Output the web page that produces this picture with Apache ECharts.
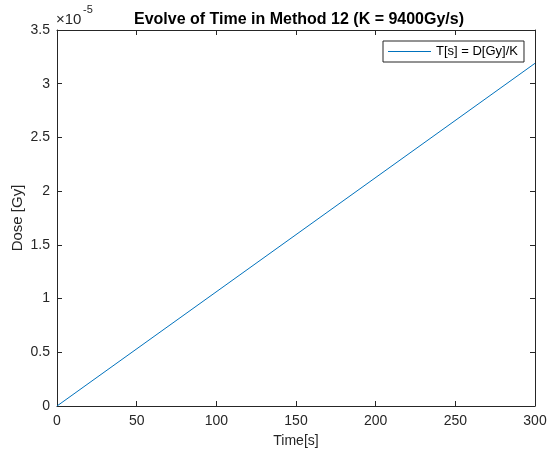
<!DOCTYPE html>
<html><head><meta charset="utf-8">
<script src="https://cdn.jsdelivr.net/npm/echarts@6/dist/echarts.min.js"></script>
<style>html,body{margin:0;padding:0;background:#fff}#c{width:547px;height:454px}</style>
</head><body><div id="c"></div>
<script>
const timeS = [0, 300];
const doseGy = [0, 3.19e-5];
const xTicks = [0, 50, 100, 150, 200, 250, 300];
const yTickLabels = ['0','0.5','1','1.5','2','2.5','3','3.5'];
const seriesName = 'T[s] = D[Gy]/K';
const titleText = 'Evolve of Time in Method 12 (K = 9400Gy/s)';

const chart = echarts.init(document.getElementById('c'), null, {renderer:'canvas'});
const font = '"Liberation Sans", Arial, sans-serif';
const tc = '#262626';
const axisCommon = {
  axisLine:{show:true, onZero:false, lineStyle:{color:tc, width:1}},
  axisTick:{show:true, inside:true, length:5, lineStyle:{color:tc}},
  splitLine:{show:false}
};
chart.setOption({
  animation:false,
  backgroundColor:'#fff',
  title:{text:titleText, left:129, top:7,
    textStyle:{fontFamily:font, fontSize:16, fontWeight:'bold', color:'#000'}},
  grid:{left:57, right:12, top:30, bottom:48, containLabel:false, outerBoundsMode:'none'},
  legend:{data:[{name:seriesName, icon:'rect'}], left:383, top:41, orient:'vertical',
    backgroundColor:'#fff', borderColor:tc, borderWidth:1, padding:[4,6,4,5],
    itemWidth:43, itemHeight:1, itemGap:0,
    textStyle:{fontFamily:font, fontSize:13, color:'#000'}},
  xAxis:[
    Object.assign({type:'value', min:0, max:300, interval:50, position:'bottom',
      name:'Time[s]', nameLocation:'middle', nameGap:28,
      nameTextStyle:{fontFamily:font, fontSize:14, color:tc},
      axisLabel:{fontFamily:font, fontSize:14, color:tc, margin:8,
        formatter:v=>xTicks.includes(v)?String(v):''}}, axisCommon),
    Object.assign({type:'value', min:0, max:300, interval:50, position:'top',
      axisLabel:{show:false}}, axisCommon)
  ],
  yAxis:[
    Object.assign({type:'value', min:0, max:3.5e-5, interval:0.5e-5, position:'left',
      name:'Dose [Gy]', nameLocation:'middle', nameGap:32, nameMoveOverlap:false,
      nameTextStyle:{fontFamily:font, fontSize:15, color:tc},
      axisLabel:{fontFamily:font, fontSize:14, color:tc, margin:7,
        formatter:v=>{const i=Math.round(v/0.5e-5);return yTickLabels[i]!==undefined?yTickLabels[i]:'';}}}, axisCommon),
    Object.assign({type:'value', min:0, max:3.5e-5, interval:0.5e-5, position:'right',
      axisLabel:{show:false}}, axisCommon)
  ],
  graphic:[
    {type:'text', left:56, top:12, style:{text:'×10', font:'15px "Liberation Sans", Arial, sans-serif', fill:tc}},
    {type:'text', left:83, top:4, style:{text:'-5', font:'11px "Liberation Sans", Arial, sans-serif', fill:tc}}
  ],
  series:[{name:seriesName, type:'line', xAxisIndex:0, yAxisIndex:0,
    data:timeS.map((t,i)=>[t, doseGy[i]]), symbol:'none', showSymbol:false,
    lineStyle:{color:'#0072BD', width:1}, itemStyle:{color:'#0072BD'}}]
});
</script></body></html>
